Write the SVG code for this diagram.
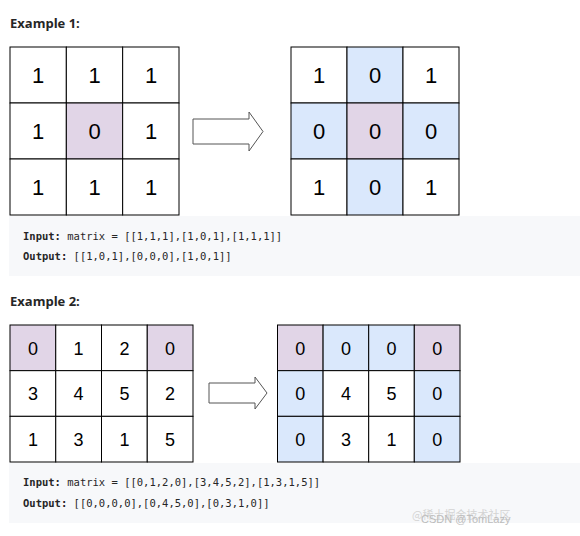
<svg xmlns="http://www.w3.org/2000/svg" width="580" height="536" viewBox="0 0 580 536">
<style>
.h{font-family:"Open Sans","Liberation Sans",sans-serif;font-weight:bold;font-size:13px;fill:#262626}
.c{stroke:#000;stroke-width:1}
.w{fill:#fff}
.p{fill:#e1d5e7}
.b{fill:#dae8fc}
.n1{font-family:"Liberation Sans",Arial,sans-serif;font-size:22px;fill:#000;text-anchor:middle}
.n2{font-family:"Liberation Sans",Arial,sans-serif;font-size:18px;fill:#000;text-anchor:middle}
.code{fill:#f7f8fa}
.m{font-family:"DejaVu Sans Mono","Liberation Mono",monospace;font-size:10.5px;fill:#262626}
.m tspan.k{font-weight:bold}
.arr{fill:#fff;stroke:#555;stroke-width:1}
.wm1{font-family:"Noto Sans CJK SC",sans-serif;font-size:11px;fill:#d4d4d4}
.wm2{font-family:"Liberation Sans",Arial,sans-serif;font-size:11px;fill:#bcbcbc}
</style>
<rect width="580" height="536" fill="#fff"/>
<g id="heading1"><text class="h" x="10" y="28">Example 1:</text></g>

<g id="grid1-in">
<rect class="w c" x="10" y="47" width="56.33" height="56"/>
<rect class="w c" x="66.33" y="47" width="56.33" height="56"/>
<rect class="w c" x="122.67" y="47" width="56.33" height="56"/>
<rect class="w c" x="10" y="103" width="56.33" height="56"/>
<rect class="p c" x="66.33" y="103" width="56.33" height="56"/>
<rect class="w c" x="122.67" y="103" width="56.33" height="56"/>
<rect class="w c" x="10" y="159" width="56.33" height="56"/>
<rect class="w c" x="66.33" y="159" width="56.33" height="56"/>
<rect class="w c" x="122.67" y="159" width="56.33" height="56"/>
<text class="n1" x="38" y="83">1</text><text class="n1" x="94.5" y="83">1</text><text class="n1" x="151" y="83">1</text>
<text class="n1" x="38" y="139">1</text><text class="n1" x="94.5" y="139">0</text><text class="n1" x="151" y="139">1</text>
<text class="n1" x="38" y="195">1</text><text class="n1" x="94.5" y="195">1</text><text class="n1" x="151" y="195">1</text>
</g>

<g id="grid1-out">
<rect class="w c" x="291" y="47" width="56" height="56"/>
<rect class="b c" x="347" y="47" width="56" height="56"/>
<rect class="w c" x="403" y="47" width="56" height="56"/>
<rect class="b c" x="291" y="103" width="56" height="56"/>
<rect class="p c" x="347" y="103" width="56" height="56"/>
<rect class="b c" x="403" y="103" width="56" height="56"/>
<rect class="w c" x="291" y="159" width="56" height="56"/>
<rect class="b c" x="347" y="159" width="56" height="56"/>
<rect class="w c" x="403" y="159" width="56" height="56"/>
<text class="n1" x="319" y="83">1</text><text class="n1" x="375" y="83">0</text><text class="n1" x="431" y="83">1</text>
<text class="n1" x="319" y="139">0</text><text class="n1" x="375" y="139">0</text><text class="n1" x="431" y="139">0</text>
<text class="n1" x="319" y="195">1</text><text class="n1" x="375" y="195">0</text><text class="n1" x="431" y="195">1</text>
</g>

<g id="code1">
<rect class="code" x="9" y="216" width="571" height="60"/>
<text class="m" x="23" y="240"><tspan class="k">Input:</tspan> matrix = [[1,1,1],[1,0,1],[1,1,1]]</text>
<text class="m" x="23" y="260"><tspan class="k">Output:</tspan> [[1,0,1],[0,0,0],[1,0,1]]</text>
</g>

<g id="heading2"><text class="h" x="10" y="306">Example 2:</text></g>

<g id="grid2-in">
<rect class="p c" x="10" y="325" width="45.75" height="45.67"/>
<rect class="w c" x="55.75" y="325" width="45.75" height="45.67"/>
<rect class="w c" x="101.5" y="325" width="45.75" height="45.67"/>
<rect class="p c" x="147.25" y="325" width="45.75" height="45.67"/>
<rect class="w c" x="10" y="370.67" width="45.75" height="45.67"/>
<rect class="w c" x="55.75" y="370.67" width="45.75" height="45.67"/>
<rect class="w c" x="101.5" y="370.67" width="45.75" height="45.67"/>
<rect class="w c" x="147.25" y="370.67" width="45.75" height="45.67"/>
<rect class="w c" x="10" y="416.33" width="45.75" height="45.67"/>
<rect class="w c" x="55.75" y="416.33" width="45.75" height="45.67"/>
<rect class="w c" x="101.5" y="416.33" width="45.75" height="45.67"/>
<rect class="w c" x="147.25" y="416.33" width="45.75" height="45.67"/>
<text class="n2" x="33" y="354.5">0</text><text class="n2" x="78.5" y="354.5">1</text><text class="n2" x="124.5" y="354.5">2</text><text class="n2" x="170" y="354.5">0</text>
<text class="n2" x="33" y="400">3</text><text class="n2" x="78.5" y="400">4</text><text class="n2" x="124.5" y="400">5</text><text class="n2" x="170" y="400">2</text>
<text class="n2" x="33" y="446">1</text><text class="n2" x="78.5" y="446">3</text><text class="n2" x="124.5" y="446">1</text><text class="n2" x="170" y="446">5</text>
</g>

<g id="grid2-out">
<rect class="p c" x="277.5" y="325" width="45.6" height="45.67"/>
<rect class="b c" x="323.1" y="325" width="45.6" height="45.67"/>
<rect class="b c" x="368.7" y="325" width="45.6" height="45.67"/>
<rect class="p c" x="414.3" y="325" width="45.7" height="45.67"/>
<rect class="b c" x="277.5" y="370.67" width="45.6" height="45.67"/>
<rect class="w c" x="323.1" y="370.67" width="45.6" height="45.67"/>
<rect class="w c" x="368.7" y="370.67" width="45.6" height="45.67"/>
<rect class="b c" x="414.3" y="370.67" width="45.7" height="45.67"/>
<rect class="b c" x="277.5" y="416.33" width="45.6" height="45.67"/>
<rect class="w c" x="323.1" y="416.33" width="45.6" height="45.67"/>
<rect class="w c" x="368.7" y="416.33" width="45.6" height="45.67"/>
<rect class="b c" x="414.3" y="416.33" width="45.7" height="45.67"/>
<text class="n2" x="300.3" y="354.5">0</text><text class="n2" x="346" y="354.5">0</text><text class="n2" x="391.5" y="354.5">0</text><text class="n2" x="437.2" y="354.5">0</text>
<text class="n2" x="300.3" y="400">0</text><text class="n2" x="346" y="400">4</text><text class="n2" x="391.5" y="400">5</text><text class="n2" x="437.2" y="400">0</text>
<text class="n2" x="300.3" y="446">0</text><text class="n2" x="346" y="446">3</text><text class="n2" x="391.5" y="446">1</text><text class="n2" x="437.2" y="446">0</text>
</g>

<g id="code2">
<rect class="code" x="9" y="463" width="571" height="60"/>
<text class="m" x="23" y="486"><tspan class="k">Input:</tspan> matrix = [[0,1,2,0],[3,4,5,2],[1,3,1,5]]</text>
<text class="m" x="23" y="507"><tspan class="k">Output:</tspan> [[0,0,0,0],[0,4,5,0],[0,3,1,0]]</text>
</g>

<g id="connectors">
<path class="arr" d="M193,119 L249,119 L249,112 L263,131.5 L249,151 L249,144 L193,144 Z"/>
<path class="arr" d="M209,383 L255,383 L255,377 L267,393 L255,409 L255,403 L209,403 Z"/>
</g>

<g id="watermark">
<text class="wm1" x="412" y="519">@稀土掘金技术社区</text>
<text class="wm2" x="421" y="523">CSDN @TomLazy</text>
</g>
</svg>
